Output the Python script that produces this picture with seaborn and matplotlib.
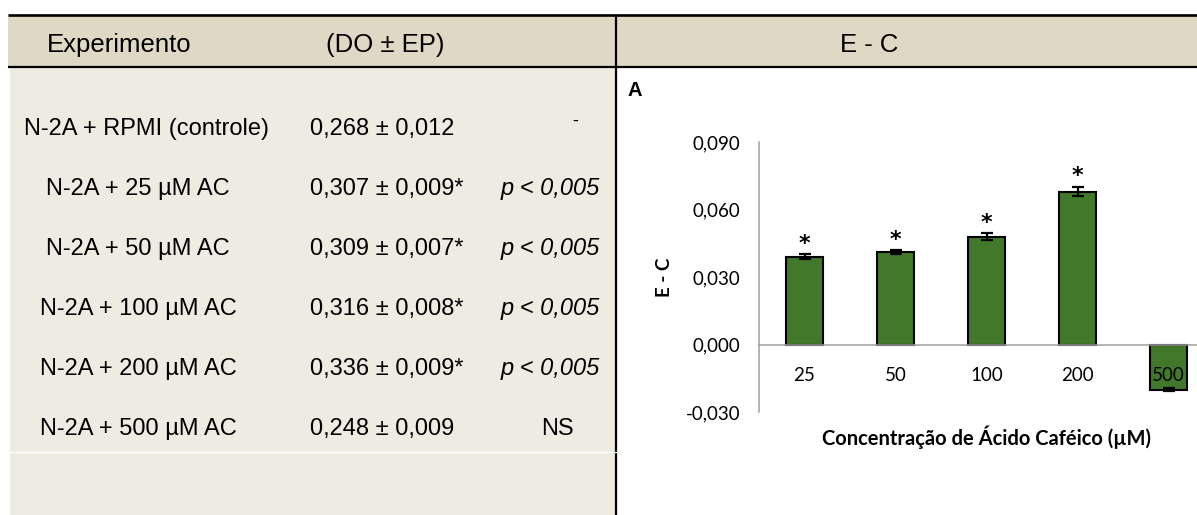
import matplotlib
matplotlib.use("Agg")
import matplotlib.pyplot as plt
import seaborn as sns
import pandas as pd
from matplotlib.patches import Rectangle
from matplotlib.ticker import FuncFormatter

# ---------------------------------------------------------------- data
experiments = ["N-2A + RPMI (controle)", "N-2A + 25 µM AC", "N-2A + 50 µM AC",
               "N-2A + 100 µM AC", "N-2A + 200 µM AC", "N-2A + 500 µM AC"]
do_ep = ["0,268 ± 0,012", "0,307 ± 0,009*", "0,309 ± 0,007*",
         "0,316 ± 0,008*", "0,336 ± 0,009*", "0,248 ± 0,009"]
p_values = ["-", "p < 0,005", "p < 0,005", "p < 0,005", "p < 0,005", "NS"]

concentrations = ["25", "50", "100", "200", "500"]
e_minus_c = [0.039, 0.041, 0.048, 0.068, -0.020]
e_minus_c_err = [0.0011, 0.0009, 0.0015, 0.0022, 0.0005]
significant = [True, True, True, True, False]
y_ticks = [-0.030, 0.000, 0.030, 0.060, 0.090]

GREEN = "#41782A"
GREY = "#A0A0A0"
HEAD_BG = "#DDD9C4"
BODY_BG = "#EEECE1"

sns.set_theme(style="white")
plt.rcParams["font.family"] = ["Liberation Sans", "DejaVu Sans"]
plt.rcParams.update({"text.color": "black", "axes.labelcolor": "black",
                     "xtick.labelcolor": "black", "ytick.labelcolor": "black"})

W, H = 1197, 515
fig = plt.figure(figsize=(W / 100, H / 100), dpi=100)

# ---------------------------------------------------------------- table (pixel canvas)
bg = fig.add_axes([0, 0, 1, 1])
bg.set_xlim(0, W); bg.set_ylim(H, 0); bg.axis("off")
bg.add_patch(Rectangle((10, 67), 606, H - 67, color=BODY_BG, lw=0))
bg.add_patch(Rectangle((8, 15), W - 8, 52, color=HEAD_BG, lw=0))
bg.plot([8, W], [15, 15], color="black", lw=1.9, solid_capstyle="butt")
bg.plot([8, W], [67, 67], color="black", lw=1.6, solid_capstyle="butt")
bg.plot([616, 616], [15, H], color="black", lw=1.6, solid_capstyle="butt")
bg.plot([10, 616], [452, 452], color="white", lw=1.0)

hdr = dict(fontsize=18.5, va="center", ha="center", color="black")
bg.text(119, 45, "Experimento", **hdr)
bg.text(385, 45, "(DO ± EP)", **hdr)
bg.text(869, 45, "E - C", **hdr)

row0, row_step = 129, 60
for i, (exp, val, p) in enumerate(zip(experiments, do_ep, p_values)):
    y = row0 + i * row_step
    bg.text(147 if i == 0 else 138, y, exp, fontsize=17, ha="center", va="center")
    bg.text(310, y, val, fontsize=17, ha="left", va="center")
    if p.startswith("p"):
        bg.text(550, y, p, fontsize=17, ha="center", va="center", style="italic")
    elif p == "-":
        bg.text(575, y - 8, p, fontsize=13, ha="center", va="center")
    else:
        bg.text(557, y, p, fontsize=17, ha="center", va="center")

bg.text(635, 90, "A", fontsize=14.5, fontweight="bold", ha="center", va="center")

# ---------------------------------------------------------------- bar chart
ax = fig.add_axes([759 / W, (H - 412) / H, 455 / W, 270 / H])
ax.patch.set_alpha(0)
df = pd.DataFrame({"conc": concentrations, "ec": e_minus_c})
sns.barplot(data=df, x="conc", y="ec", color=GREEN, saturation=1, width=0.41,
            edgecolor="black", linewidth=1.5, errorbar=None, ax=ax)
xs = range(len(concentrations))
ax.errorbar(xs, e_minus_c, yerr=e_minus_c_err, fmt="none", ecolor="black",
            elinewidth=1.6, capsize=4.3, capthick=1.6, zorder=3)
for i, (v, e, s) in enumerate(zip(e_minus_c, e_minus_c_err, significant)):
    if s:
        ax.annotate("*", xy=(i, v + e), xytext=(0, 3), textcoords="offset points",
                    ha="center", va="baseline", fontsize=16, fontweight="bold",
                    family="DejaVu Sans")

ax.set_axisbelow(False)
ax.set_ylim(-0.030, 0.090)
ax.set_xlim(-0.5, len(concentrations) - 0.5)
ax.set_yticks(y_ticks)
ax.yaxis.set_major_formatter(FuncFormatter(lambda v, _: f"{v:.3f}".replace(".", ",").replace("-0,000", "0,000")))
for s in ["top", "right"]:
    ax.spines[s].set_visible(False)
ax.spines["left"].set_color(GREY); ax.spines["left"].set_linewidth(1.1)
ax.spines["bottom"].set_color(GREY); ax.spines["bottom"].set_linewidth(1.1)
ax.spines["bottom"].set_position(("data", 0))
ax.set_xticks(list(xs))
ax.set_xticks([i + 0.5 for i in xs], minor=True)
ax.tick_params(axis="x", which="major", length=0, pad=16, labelsize=13.5,
               labelfontfamily="Lato", labelcolor="black")
ax.tick_params(axis="x", which="minor", length=5.8, width=1.1, color=GREY, direction="out")
ax.tick_params(axis="y", length=4.3, width=1.1, color=GREY, direction="out", pad=9,
               labelsize=13.5, labelfontfamily="Lato", labelcolor="black")
ax.set_xlabel("Concentração de Ácido Caféico (µM)", fontsize=14.5, fontweight="bold",
              family="Lato", color="black")
ax.xaxis.set_label_coords(0.5, -0.05)
ax.set_ylabel("E - C", fontsize=13.5, fontweight="bold", family="Lato", color="black")
ax.yaxis.set_label_coords(-0.19, 0.5)

fig.savefig("out.png", dpi=100)
